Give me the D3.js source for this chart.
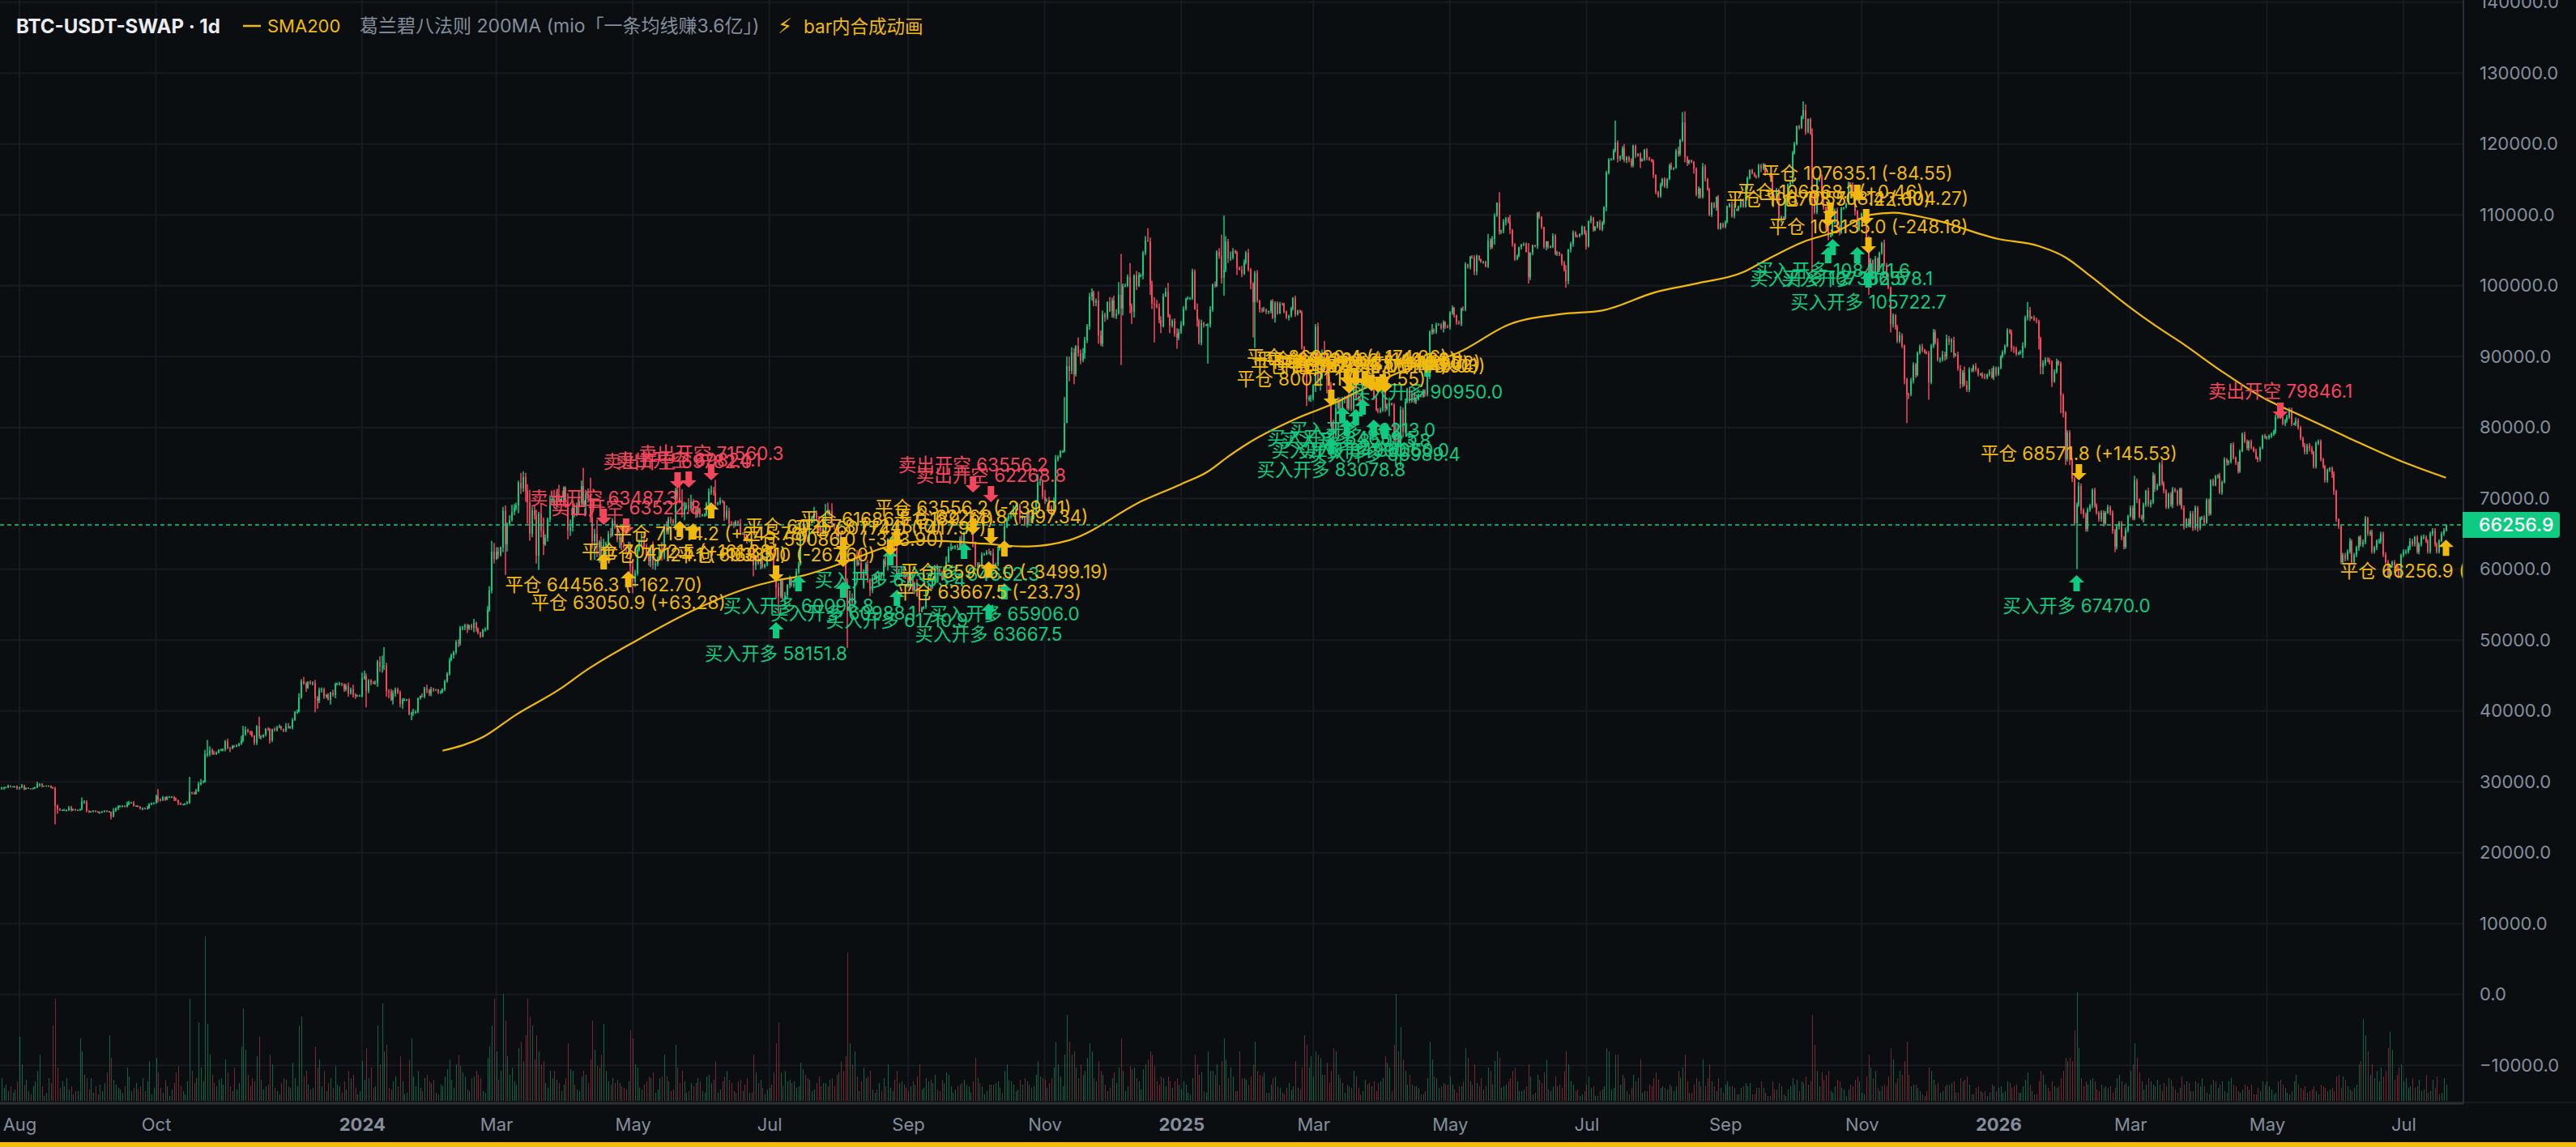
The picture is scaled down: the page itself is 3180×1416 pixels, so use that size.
<!DOCTYPE html>
<html>
<head>
<meta charset="utf-8">
<style>
  html, body { margin: 0; padding: 0; background: #0b0e11; }
  svg { display: block; }
  text { font-family: Inter, "Noto Sans CJK SC", sans-serif; }
  .axis path, .axis line { display: none; }
  .axis text { fill: #848e9c; font-size: 22px; }
</style>
</head>
<body>
<svg id="chart" width="3180" height="1416"></svg>
<script src="https://cdn.jsdelivr.net/npm/d3@7/dist/d3.min.js"></script>
<script>
// first daily bar of the series
const firstBar = "2023-07-24";

// daily closes, in hundreds of USDT (one row per month)
const closes = [
  291,292,292,294,293,293,293,291,
  292,294,290,291,291,290,291,292,297,297, 294,294,294,294,292,291,266,261,260,260, 260,260,264,260,261,260,260,261,272,272, 259,
  258,258,259,258,257,257,258,259,258,258, 251,259,262,265,266,266,265,268,271,271, 266,266,265,262,263,262,263,268,269,270,
  280,275,274,278,275,279,279,279,276,274, 270,268,268,269,271,285,284,283,287,297, 299,300,339,339,345,341,339,341,345,345, 346,
  357,348,347,351,350,351,354,358,367,373, 371,370,365,355,378,364,364,366,375,374, 358,374,373,377,378,374,372,378,377,377,
  387,398,399,419,442,439,433,441,438,440, 418,415,429,431,420,423,416,426,423,437, 438,439,437,430,435,425,431,423,421,421, 421,
  446,449,428,443,440,439,440,469,462,463, 464,428,427,416,425,431,426,410,416,416, 416,395,397,399,399,418,421,420,432,429, 425,
  431,430,430,426,427,431,442,452,472,478, 483,497,496,517,518,521,516,521,517,524, 516,510,505,514,515,543,570,625,615,
  625,620,630,682,635,664,669,681,686,690, 722,714,730,710,694,650,683,676,619,679, 655,635,644,670,699,699,690,705,697,699, 715,
  695,655,659,686,676,690,693,717,691,706, 702,673,640,650,631,639,612,634,636,650, 648,668,662,642,644,634,632,630,635,604,
  583,594,627,638,641,632,623,611,630,605, 608,616,628,618,661,652,670,668,665,712, 701,695,677,687,690,685,696,683,677,684, 677,
  677,677,692,709,710,708,692,693,697,696, 673,682,665,664,662,667,665,650,650,644, 640,640,633,605,618,608,616,603,606,626,
  629,622,600,574,562,584,559,563,578,586, 577,579,596,607,647,650,642,640,668,672, 680,673,659,655,658,680,678,682,664,661, 646,
  650,613,607,582,541,560,553,620,607,609, 587,594,607,585,570,587,592,585,594,590, 612,606,642,642,644,629,592,592,595,592, 589,
  575,593,570,580,562,540,545,547,570,576, 575,583,605,601,596,586,601,611,628,630, 631,633,631,642,632,652,656,657,657,636,
  606,607,604,620,621,624,623,623,606,606, 628,631,628,660,670,675,675,684,684,691, 672,673,663,680,666,672,680,694,722,723, 703,
  697,697,686,678,694,755,759,766,767,806, 886,880,906,875,915,905,895,905,923,943, 985,990,976,979,930,918,960,955,977,964,
  979,957,961,987,968,1000,1000,1012,971,963, 1015,1000,1014,1014,1046,1064,1063,1002,974,973, 970,952,942,985,992,957,944,951,932,926, 934,
  945,968,981,982,983,1020,967,950,920,947, 945,945,945,966,1002,1000,1048,1042,1011,1022, 1062,1038,1040,1049,1047,1025,1023,1017,1033,1046, 1023,
  1003,977,1018,979,966,965,967,963,964,978, 955,976,961,975,974,963,955,957,968,982, 960,965,962,913,885,840,842,842,
  859,943,861,873,902,898,868,860,806,789, 827,838,811,840,842,827,845,826,869,842, 840,835,860,877,875,866,873,843,825,822, 825,
  851,827,831,834,832,782,792,767,825,794, 836,855,837,845,836,840,846,843,852,846, 875,934,938,935,945,945,940,948,943,941,
  962,969,958,948,946,968,966,1030,1026,1041, 1040,1020,1042,1037,1034,1034,1027,1064,1054,1066, 1099,1117,1076,1077,1090,1095,1090,1078,1059,1037, 1042,
  1054,1058,1059,1048,1012,1046,1057,1056,1102,1097, 1083,1055,1062,1055,1055,1071,1045,1047,1044,1032, 1022,1007,1051,1059,1075,1071,1070,1073,1083,1074,
  1056,1091,1096,1079,1083,1090,1080,1089,1110,1160, 1178,1178,1190,1202,1179,1182,1194,1177,1181,1177, 1170,1197,1184,1186,1176,1178,1192,1180,1178,1176, 1156,
  1132,1126,1143,1151,1140,1150,1170,1165,1166,1191, 1186,1205,1231,1181,1173,1177,1175,1165,1129,1137, 1125,1168,1150,1136,1100,1116,1111,1125,1081,1088, 1083,
  1090,1112,1115,1098,1108,1107,1112,1121,1112,1138, 1152,1163,1159,1155,1154,1170,1165,1171,1158,1158, 1155,1127,1123,1136,1092,1097,1095,1123,1142,1146,
  1187,1200,1225,1223,1238,1248,1217,1235,1215,1130, 1104,1150,1154,1130,1110,1082,1069,1072,1089,1107, 1083,1075,1110,1110,1116,1145,1142,1127,1105,1080, 1095,
  1101,1104,1068,1012,1036,1011,1039,1022,1046,1060, 1029,1010,997,946,959,941,922,930,915,868, 847,846,866,889,874,905,914,909,906,905,
  864,915,934,920,896,896,903,900,925,921, 923,902,903,883,861,877,860,853,882,881, 886,882,875,875,872,871,875,879,871,884, 875,
  884,900,906,915,937,935,912,910,904,905, 906,915,955,965,955,955,952,950,925,885, 891,896,895,892,865,879,893,890,845,820, 755,
  793,755,728,665,691,717,683,677,657,684, 690,712,690,680,670,680,665,680,688,680, 655,632,660,665,645,632,655,675,
  687,672,725,698,674,672,691,710,691,695, 732,713,719,748,721,710,688,706,691,713, 710,692,713,687,660,670,662,679,658,687, 658,
  672,673,666,698,679,725,719,731,732,708, 723,755,750,752,776,757,750,738,767,791, 780,771,780,771,767,757,755,771,788,786,
  786,788,790,795,815,825,815,805,810,815, 825,805,805,810,800,785,775,765,775,770, 765,745,778,780,755,745,725,740,742,735, 710,670,660,
  610,620,615,625,640,610,620,630,645,635, 638,672,650,652,625,630,640,640,650,620, 610,590,605,610,605,600,590,620,625,625,
  630,640,635,645,625,635,645,645,640,625, 650,655,635,625,640,650,655,663
];

// wick length above the candle body, in hundreds of USDT
const wickUp = [
  2,1,1,2,1,1,1,2,
  1,3,2,1,1,0,1,1,3,1, 1,0,1,1,1,1,2,2,2,1, 2,1,2,2,1,1,1,1,6,2, 2,
  1,1,1,1,1,1,1,1,1,1, 0,4,2,2,1,1,1,4,2,1, 2,1,1,1,1,1,3,2,2,1,
  2,10,2,2,1,1,1,1,1,2, 1,1,1,1,2,22,1,2,3,3, 5,2,6,20,5,2,3,2,1,2, 1,
  2,4,1,1,1,2,1,7,12,5, 2,1,2,1,2,14,2,1,1,2, 2,1,3,2,3,1,1,5,5,2,
  3,2,3,6,3,6,2,1,2,2, 4,3,4,2,2,1,2,1,4,3, 2,2,1,2,3,5,2,6,2,2, 2,
  8,8,4,2,2,2,3,3,8,15, 26,4,3,4,4,2,2,3,2,2, 1,2,2,4,2,1,1,4,2,5, 2,
  3,2,1,1,2,1,2,3,3,3, 2,3,4,3,2,2,2,1,2,6, 2,2,2,2,3,5,6,15,12,
  6,6,2,6,8,2,7,10,6,4, 3,14,8,6,10,18,5,8,8,2, 14,18,5,3,5,4,13,5,14,4, 2,
  2,12,11,5,7,4,3,8,26,6, 8,27,27,7,20,2,7,9,3,4, 8,4,9,2,7,3,4,3,4,3,
  5,5,8,4,11,12,4,8,4,9, 6,2,7,10,1,7,4,4,3,3, 7,18,18,8,4,10,9,3,5,4, 3,
  1,2,3,5,8,6,18,2,4,1, 0,8,5,3,3,2,2,6,2,4, 3,1,1,2,2,2,2,3,2,3,
  3,5,2,2,7,3,3,5,1,5, 3,2,5,4,4,5,9,3,7,3, 8,3,2,1,3,12,14,2,11,1, 2,
  5,4,5,2,5,10,6,2,7,4, 17,6,3,6,2,3,2,3,2,2, 3,6,2,3,3,3,3,2,9,5, 2,
  4,2,6,2,6,3,2,1,1,3, 2,2,1,2,1,2,3,7,4,7, 2,1,3,4,6,1,5,4,2,3,
  3,3,3,4,2,3,5,3,6,3, 3,3,1,6,3,4,3,6,2,3, 1,3,2,2,4,3,6,4,12,5, 2,
  9,3,5,4,7,6,2,2,1,37, 14,14,7,6,1,12,5,7,5,3, 5,6,3,3,13,7,5,2,1,7,
  4,7,6,18,58,3,3,4,20,4, 1,6,5,3,3,6,17,5,5,10, 7,5,5,4,5,12,3,2,3,8, 5,
  5,3,2,3,1,4,3,8,3,5, 2,1,2,5,1,4,2,5,30,77, 8,4,8,4,2,2,2,5,4,3, 6,
  2,2,3,4,1,3,3,1,1,2, 3,2,2,2,1,2,2,2,2,2, 4,1,1,3,2,2,3,4,
  2,3,5,3,8,20,10,4,4,5, 12,5,4,3,2,3,3,4,3,3, 3,2,2,2,2,2,4,2,3,2, 3,
  8,34,3,8,1,2,15,13,5,3, 5,1,2,6,5,2,2,1,2,2, 3,3,8,2,3,2,2,3,2,2,
  2,3,1,1,3,1,3,3,1,1, 2,3,2,1,1,1,1,9,3,4, 3,0,15,2,4,2,2,10,2,1, 2,
  1,1,2,2,12,1,1,1,2,3, 1,0,1,1,2,3,2,2,1,1, 3,7,1,3,3,2,1,1,2,1,
  4,1,3,1,1,1,3,2,2,2, 2,2,3,31,3,2,3,6,2,2, 3,2,2,1,2,2,1,2,2,1, 2,
  1,2,2,1,2,2,2,4,1,2, 5,2,14,15,2,1,1,1,2,3, 1,5,3,2,2,2,2,1,3,1, 1,
  2,1,2,4,8,1,1,2,2,3, 2,1,2,1,1,2,2,2,1,1, 1,1,2,2,1,2,1,1,2,1,
  3,3,1,2,2,12,8,1,2,7, 3,2,1,3,4,2,2,1,1,2, 3,3,1,1,1,2,1,4,4,2, 1,
  2,1,1,2,3,1,3,1,2,2, 5,3,6,2,2,1,4,5,3,2, 2,2,4,3,2,2,3,4,2,2,
  3,3,5,4,6,3,5,4,6,4, 3,5,2,4,5,4,9,6,3,2, 3,5,2,2,3,4,1,3,5,3, 2,
  2,2,3,2,3,2,3,3,4,2, 3,5,3,12,5,2,3,3,2,3, 4,3,3,3,3,3,4,2,3,3, 3,
  3,3,2,2,3,6,4,3,3,3, 2,2,3,3,2,3,3,2,3,2, 3,2,3,3,3,2,4,2,
  3,3,7,3,2,3,3,2,5,3, 5,3,2,3,6,3,3,2,3,3, 2,2,2,2,3,2,2,3,3,3, 2,
  2,2,3,2,2,2,3,2,2,4, 2,3,2,2,2,3,2,2,2,2, 3,3,2,3,2,3,2,2,2,3,
  2,2,3,2,3,4,2,3,2,3, 3,3,2,4,3,2,2,3,2,3, 4,2,2,3,3,2,2,2,2,3, 3,2,2,3,3,3,3,4,2,3, 3,2,3,4,3,2,3,4,3,2, 3,3,3,4,3,3,2,3,3,4, 2,3,3,3,4,3,2,3,3,3, 4,3,2,3,3,3,3,2,3,3, 0
];

// wick length below the candle body, in hundreds of USDT
const wickDown = [
  1,2,1,1,1,0,1,2,
  2,1,2,1,0,1,1,1,1,4, 2,1,0,1,1,1,26,6,1,1, 1,2,1,2,1,1,1,1,1,3, 2,
  2,1,1,1,1,2,1,1,1,1, 4,1,1,2,1,2,1,1,1,1, 1,1,1,1,2,1,1,1,1,1,
  1,4,2,1,2,1,1,1,3,1, 3,1,1,1,1,2,2,1,1,1, 2,1,1,4,3,3,1,1,1,1, 2,
  3,2,5,1,2,1,1,2,2,2, 2,4,2,3,3,3,4,2,2,2, 4,2,2,2,1,1,2,2,2,2,
  3,1,2,1,2,2,6,2,1,2, 20,12,4,3,3,2,1,7,3,5, 1,2,2,3,2,5,2,4,4,1, 1,
  2,2,23,3,4,1,2,6,7,8, 5,8,9,2,7,5,2,5,7,2, 2,1,8,4,3,2,2,1,2,4, 4,
  4,3,2,2,2,2,3,2,2,2, 4,3,6,4,3,4,6,2,3,6, 4,2,2,1,2,1,3,4,7,
  2,5,2,6,43,10,3,2,5,3, 11,8,5,15,30,10,5,6,11,20, 10,15,2,5,4,6,4,3,2,2, 4,
  8,13,8,6,3,1,2,3,2,15, 8,7,11,27,14,22,10,6,33,6, 4,2,5,4,12,7,3,7,8,9,
  17,8,3,2,4,4,4,6,8,5, 6,4,3,6,4,3,3,4,1,6, 4,2,4,8,3,4,3,4,5,4, 4,
  3,3,2,3,4,4,6,2,2,3, 5,3,4,3,4,2,4,2,1,4, 4,2,2,15,6,2,8,2,2,2,
  7,2,6,15,25,3,2,9,4,5, 2,3,1,3,2,1,4,2,2,1, 7,4,5,6,8,2,2,3,1,5, 2,
  7,3,3,3,52,2,5,6,3,2, 2,9,3,4,8,4,2,2,7,3, 4,3,8,2,2,3,7,7,2,5, 3,
  1,3,2,5,1,2,1,2,3,4, 5,3,4,2,3,2,1,4,2,2, 2,3,2,3,3,1,2,2,3,5,
  3,3,2,2,1,1,2,4,1,3, 2,2,2,2,2,2,4,1,2,1, 8,2,2,4,3,1,2,2,2,4, 4,
  5,2,4,3,2,1,3,2,2,2, 0,15,5,14,3,5,6,3,8,4, 5,6,5,5,12,3,4,6,3,1,
  9,3,4,2,80,10,2,2,10,17, 8,6,2,2,5,3,1,15,7,53, 2,5,9,1,1,2,11,3,4,15, 3,
  2,2,3,1,2,3,1,8,3,4, 4,2,55,4,3,3,2,4,8,25, 3,6,3,3,2,10,1,5,2,3, 3,
  8,50,65,3,4,3,2,3,3,3, 2,7,2,1,2,2,2,4,2,3, 4,2,1,3,13,10,3,6,
  4,9,3,9,5,4,20,7,5,10, 4,2,2,2,6,2,3,3,3,4, 3,2,2,2,3,2,2,4,2,2, 2,
  3,5,3,15,1,4,37,2,22,8, 2,2,3,2,2,3,2,1,1,3, 2,7,3,3,3,1,2,6,4,1,
  3,3,3,3,1,3,2,2,2,3, 2,5,5,2,2,3,1,2,3,2, 8,2,4,3,3,5,2,5,4,2, 1,
  2,3,2,1,9,4,3,2,4,3, 3,3,5,3,2,2,2,3,2,4, 2,10,5,4,4,3,2,2,2,2,
  5,2,3,3,2,2,2,3,3,5, 3,1,1,2,5,3,4,3,4,3, 3,3,4,2,10,1,2,3,2,2, 4,
  3,2,2,3,2,3,1,2,2,1, 4,3,2,7,4,2,2,7,3,6, 2,2,3,2,2,3,2,5,2,2, 2,
  2,2,2,2,3,2,2,2,2,2, 2,2,2,2,3,2,5,2,3,1, 2,4,3,3,2,3,2,1,3,3,
  2,2,2,3,2,3,4,2,2,112, 3,3,3,6,3,3,5,1,2,2, 3,4,2,3,1,2,3,3,6,4, 3,
  2,2,3,25,8,3,7,3,3,2, 2,2,2,12,5,3,3,3,3,7, 41,6,2,4,4,2,2,3,2,2,
  25,3,3,3,3,5,3,6,4,5, 15,4,2,3,6,4,2,3,3,3, 3,3,3,2,3,3,3,3,2,4, 3,
  2,2,2,3,2,3,5,5,3,2, 2,8,3,4,5,2,2,3,15,10, 10,4,3,3,8,2,3,3,25,6, 8,
  3,8,5,3,65,3,5,5,4,4, 3,4,3,3,3,3,5,3,2,4, 5,8,4,4,4,4,3,3,
  2,3,3,5,2,3,6,3,3,4, 3,4,2,2,3,3,3,3,3,5, 2,3,2,3,4,2,3,3,4,3, 5,
  3,3,3,2,4,3,2,2,3,2, 3,2,4,3,3,2,3,3,2,2, 2,3,4,2,2,2,4,3,2,2,
  3,3,3,2,4,3,3,2,3,3, 3,3,2,3,3,3,3,3,3,4, 3,3,3,3,3,3,3,3,3,6, 5,3,3,3,3,4,3,3,3,3, 3,4,3,4,3,3,3,3,3,3, 4,4,3,3,3,4,3,3,3,3, 3,3,4,3,3,3,3,3,4,3, 3,3,3,3,3,3,3,3,2,3, 2
];

// volume, relative units (tallest bar = 100)
const volumes = [
  14,8,10,6,9,5,7,12,
  39,22,10,13,6,4,9,12,18,28, 9,3,5,14,11,46,62,20,8,12, 9,14,7,9,4,6,6,38,30,16, 14,
  7,14,5,9,4,10,6,11,17,40, 26,13,10,8,7,5,9,20,15,6, 8,11,7,9,14,6,12,24,4,8,
  26,17,8,5,13,9,3,7,11,17, 21,9,6,4,12,62,18,11,14,48, 20,12,100,47,28,16,11,9,13,14, 10,
  25,17,9,6,20,7,11,33,56,31, 16,9,14,12,27,39,13,7,9,10, 28,22,8,6,4,11,14,13,9,8,
  23,14,9,46,51,15,18,10,7,8, 33,20,25,9,18,6,11,14,8,21, 10,9,5,12,7,18,14,16,8,4, 6,
  24,13,32,14,20,8,9,46,22,59, 30,34,8,7,12,15,9,27,12,4, 5,25,38,15,9,18,8,6,14,16, 12,
  11,13,5,4,10,9,15,19,25,13, 8,22,28,21,17,15,7,6,14,15, 18,16,14,6,5,26,33,46,62,
  30,13,18,65,49,27,16,20,12,10, 32,36,24,40,62,51,46,25,40,30, 22,24,11,8,18,14,18,13,11,6, 10,
  14,35,19,18,10,7,6,15,18,16, 11,25,49,31,21,20,28,47,18,12, 10,14,11,13,11,9,8,7,12,43,
  38,22,20,8,7,10,12,15,14,17, 5,7,14,15,28,15,12,6,7,34, 20,11,18,12,5,6,11,9,11,14, 12,
  6,5,15,16,11,13,24,5,7,12, 15,18,13,11,6,5,12,13,6,10, 14,5,5,28,17,11,13,8,4,7,
  8,10,17,35,48,17,9,18,12,13, 11,12,8,9,23,19,16,14,13,6, 7,11,15,9,11,11,9,13,14,9, 16,
  17,24,18,27,90,35,22,30,15,6, 12,20,14,15,18,7,5,7,11,6, 14,9,22,8,6,13,18,11,12,10, 8,
  6,9,12,10,15,22,7,8,14,12, 13,11,16,7,6,13,11,17,16,9, 5,7,9,10,11,13,10,9,5,12,
  26,14,11,9,4,6,10,10,10,11, 12,8,5,18,22,13,12,10,6,7, 13,10,14,12,10,8,9,16,24,15, 14,
  13,8,11,14,20,36,22,15,9,28, 52,36,28,30,20,14,22,16,18,26, 35,30,14,12,24,18,16,10,6,8,
  14,17,11,20,38,18,6,9,21,19, 20,14,12,7,19,22,25,30,28,21, 12,10,15,14,9,15,12,8,12,14, 10,
  7,12,10,5,4,14,28,22,16,17, 6,5,30,18,18,16,22,10,24,38, 25,14,20,15,6,6,30,14,14,13, 10,
  15,22,36,18,16,15,17,5,5,10, 14,15,9,8,5,4,8,11,7,9, 24,8,7,20,40,34,20,27,
  15,30,28,26,16,16,23,11,18,32, 30,16,14,11,5,10,9,8,18,15, 8,4,6,13,10,11,9,12,6,11, 12,
  14,27,23,20,6,34,65,30,45,25, 18,10,16,10,9,9,8,4,4,6, 14,36,25,15,14,8,9,11,10,10,
  15,10,7,5,9,9,12,32,26,12, 10,22,11,9,14,7,9,20,18,10, 24,30,26,8,9,10,12,14,18,20, 12,
  6,6,7,9,22,15,4,5,16,13, 11,17,25,7,6,9,15,9,10,8, 18,30,22,12,10,6,7,3,4,6,
  10,15,8,9,3,3,6,7,9,32, 30,7,8,28,28,10,16,14,6,4, 8,16,12,14,25,5,6,6,10,9, 14,
  17,13,8,9,8,7,10,9,6,9, 18,14,20,28,12,5,5,10,14,12, 9,25,9,14,22,12,9,6,14,8, 5,
  10,12,9,9,8,4,4,8,9,11, 9,11,4,4,8,8,12,8,5,3, 3,12,7,7,11,9,4,3,7,9,
  14,10,13,6,12,11,15,10,12,52, 34,18,9,17,13,16,18,6,5,9, 13,12,8,7,3,7,10,9,13,15, 12,
  5,4,15,28,20,14,18,8,6,9, 10,9,15,32,25,11,14,18,16,24, 36,16,9,10,10,8,6,4,3,6,
  20,18,13,10,11,5,6,9,10,10, 11,12,5,5,14,12,13,15,10,4, 4,8,9,6,5,6,3,5,10,9, 6,
  8,9,5,6,12,11,8,9,10,5, 5,9,13,17,10,6,4,4,12,18, 16,10,8,6,12,9,8,9,14,18, 26,
  24,26,24,43,66,32,14,9,12,10, 13,14,12,7,6,10,8,9,8,9, 5,8,14,16,12,10,11,9,
  18,22,35,26,17,12,7,10,14,12, 10,9,13,10,6,11,9,14,13,9, 7,5,8,15,10,12,11,6,6,12, 11,
  9,14,9,5,4,10,13,12,8,10, 12,6,5,12,14,10,9,6,5,7, 10,9,7,10,4,4,8,6,12,10,
  12,9,7,4,5,12,13,10,8,5, 4,6,12,16,10,8,7,9,5,6, 7,9,6,4,10,9,8,6,7,8, 6,15,16,8,15,13,9,7,6,8, 10,22,24,50,40,30,16,22,14,18, 12,20,15,18,32,42,31,13,16,20, 22,12,14,8,9,14,8,9,13,6, 7,16,5,6,13,8,15,4,5,14, 10
];

// SMA200, in hundreds of USDT
const smaDates = ["2024-02-06","2024-02-24","2024-03-10","2024-03-29","2024-04-10","2024-05-03","2024-05-28","2024-06-20","2024-07-04","2024-07-16","2024-08-03","2024-08-23","2024-09-11","2024-10-05","2024-10-23","2024-11-12","2024-12-15","2025-01-01","2025-01-13","2025-01-22","2025-01-31","2025-02-21","2025-03-11","2025-03-23","2025-04-10","2025-05-05","2025-05-28","2025-06-20","2025-07-08","2025-08-01","2025-08-19","2025-09-09","2025-09-18","2025-10-06","2025-10-21","2025-11-05","2025-11-15","2025-12-02","2026-01-01","2026-01-19","2026-01-31","2026-02-11","2026-03-01","2026-03-12","2026-03-25","2026-04-10","2026-05-01","2026-05-14","2026-06-06","2026-07-01","2026-07-20"];
const smaValues = [344,363,395,430,457,500,542,572,584,591,609,632,640,636,632,641,697,720,738,759,778,812,835,854,880,906,946,960,965,991,1003,1019,1034,1062,1077,1100,1103,1094,1066,1056,1040,1014,969,944,917,881,839,820,786,751,729];

// trade markers: date, price at the arrow tip, kind, label
const markerDates = [
  "2024-04-18","2024-04-28","2024-05-21","2024-05-26","2024-06-05","2024-09-30","2024-10-08","2026-05-07",
  "2024-07-04","2024-07-14","2024-08-03","2024-08-27","2024-08-24","2024-09-26","2024-10-14","2024-10-07",
  "2025-03-09","2025-03-23","2025-03-14","2025-03-20","2025-03-16","2025-03-28","2025-04-02","2025-04-21",
  "2025-10-19","2025-10-17","2025-10-30","2025-11-04","2026-02-05",
  "2024-04-18","2024-04-29","2024-06-05","2024-05-22","2024-05-28","2024-10-07","2024-10-14","2026-07-20",
  "2024-07-04","2024-08-03","2024-08-03","2024-08-27","2024-08-24","2024-09-30","2024-10-08",
  "2025-03-17","2025-03-09","2025-03-16","2025-03-20","2025-03-24","2025-03-27","2025-03-30","2025-04-01","2025-04-02",
  "2025-10-30","2025-10-18","2025-10-17","2025-11-03","2025-11-04","2026-02-06"
];
const markerPrices = [
  66251,64880,71393,71509,72537,70823,69451,81223,
  52537,59166,58251,57109,62823,63737,58023,55166,
  78480,84080,82937,82594,81109,81109,80651,89451,
  106594,105451,105451,102023,59166,
  62251,59737,69451,66823,66480,61109,64080,64166,
  58251,60309,62251,63166,61909,64880,63509,
  84766,83051,86023,85794,85680,85109,84880,85223,84880,
  111966,109451,108309,108537,104537,72537
];
const markerKinds = [
  "sell","sell","sell","sell","sell","sell","sell","sell",
  "buy","buy","buy","buy","buy","buy","buy","buy",
  "buy","buy","buy","buy","buy","buy","buy","buy",
  "buy","buy","buy","buy","buy",
  "closeUp","closeUp","closeUp","closeUp","closeUp","closeUp","closeUp","closeUp",
  "closeDown","closeDown","closeDown","closeDown","closeDown","closeDown","closeDown",
  "closeDown","closeDown","closeDown","closeDown","closeDown","closeDown","closeDown","closeDown","closeDown",
  "closeDown","closeDown","closeDown","closeDown","closeDown","closeDown"
];
const markerTexts = [
  "卖出开空 63487.3","卖出开空 63522.8","卖出开空 69782.0","卖出开空 69824.1","卖出开空 71560.3","卖出开空 63556.2","卖出开空 62268.8","卖出开空 79846.1",
  "买入开多 58151.8","买入开多 60098.8","买入开多 60988.1","买入开多 61710.9","买入开多 62393.4","买入开多 64652.3","买入开多 65906.0","买入开多 63667.5",
  "买入开多 83078.8","买入开多 86213.0","买入开多 84659.5","买入开多 85023.8","买入开多 84990.5","买入开多 86060.0","买入开多 86989.4","买入开多 90950.0",
  "买入开多 108441.6","买入开多 107362.5","买入开多 106578.1","买入开多 105722.7","买入开多 67470.0",
  "平仓 64456.3 (-162.70)","平仓 63050.9 (+63.28)","平仓 71314.2 (+245.78)","平仓 70472.5 (+161.38)","平仓 70124.1 (+168.31)","平仓 63667.5 (-23.73)","平仓 65906.0 (-3499.19)","平仓 66256.9 (+1260.35)",
  "平仓 60335.0 (-267.60)","平仓 59086.0 (-343.90)","平仓 60257.8 (+245.10)","平仓 61686.5 (-189.24)","平仓 60774.0 (-417.97)","平仓 63556.2 (-239.01)","平仓 62268.8 (-197.34)",
  "平仓 86302.1 (+170.44)","平仓 80021.1 (-152.55)","平仓 86920.4 (+174.06)","平仓 87028.6 (+149.23)","平仓 87390.2 (+140.61)","平仓 87129.3 (+172.83)","平仓 86994.7 (+146.90)","平仓 87201.5 (+163.72)","平仓 87035.0 (+149.03)",
  "平仓 107635.1 (-84.55)","平仓 106868.1 (+0.46)","平仓 106703.5 (-122.60)","平仓 105708.4 (-104.27)","平仓 103135.0 (-248.18)","平仓 68571.8 (+145.53)"
];

// axis ticks
const priceTicks = [140000,130000,120000,110000,100000,90000,80000,70000,60000,50000,40000,30000,20000,10000,0,-10000];
const timeTickDates = ["2023-08-01","2023-10-01","2024-01-01","2024-03-01","2024-05-01","2024-07-01","2024-09-01","2024-11-01","2025-01-01","2025-03-01","2025-05-01","2025-07-01","2025-09-01","2025-11-01","2026-01-01","2026-03-01","2026-05-01","2026-07-01"];
const timeTickLabels = ["Aug","Oct","2024","Mar","May","Jul","Sep","Nov","2025","Mar","May","Jul","Sep","Nov","2026","Mar","May","Jul"];

const lastPrice = 66256.9;

// colours
const GREEN = "#0ecb81", RED = "#f6465d", AMBER = "#f0b90b", GRID = "#171b20", AXIS_LINE = "#2b3038";

const parseDay = d3.utcParse("%Y-%m-%d");
const plotRight = 3041, paneBottom = 1362;

const svg = d3.select("#chart");
svg.append("rect").attr("width", 3180).attr("height", 1416).attr("fill", "#0b0e11");

// scales
const x = d3.scaleUtc().domain([parseDay("2023-08-01"), parseDay("2026-07-01")]).range([24, 2967]);
const y = d3.scaleLinear().domain([140000, -10000]).range([2.7, 1315.2]);
const yVol = d3.scaleLinear().domain([0, 100]).range([1359, 1156]);

// candle table
const start = parseDay(firstBar);
const bars = closes.map(function (c, i) {
    const open = i === 0 ? 290 : closes[i - 1];
    return {
        date: d3.utcDay.offset(start, i),
        open: open * 100,
        close: c * 100,
        high: (Math.max(open, c) + (wickUp[i] || 0)) * 100,
        low: (Math.min(open, c) - (wickDown[i] || 0)) * 100,
        volume: volumes[i] || 0
    };
});
const barColor = d => d.close >= d.open ? GREEN : RED;
const barX = d => Math.round(x(d.date));

svg.append("defs").append("clipPath").attr("id", "plot-clip")
    .append("rect").attr("width", plotRight).attr("height", paneBottom);

// gridlines
const grid = svg.append("g");
grid.selectAll(".gh").data(priceTicks).enter().append("line")
    .attr("x1", 0).attr("x2", plotRight).attr("y1", d => y(d)).attr("y2", d => y(d))
    .attr("stroke", GRID).attr("stroke-width", 2);
grid.selectAll(".gv").data(timeTickDates.map(parseDay)).enter().append("line")
    .attr("x1", d => x(d)).attr("x2", d => x(d)).attr("y1", 0).attr("y2", paneBottom)
    .attr("stroke", GRID).attr("stroke-width", 2);

const plot = svg.append("g").attr("clip-path", "url(#plot-clip)");

// volume
plot.append("g").selectAll("rect").data(bars).enter().append("rect")
    .attr("x", barX).attr("width", 1)
    .attr("y", d => yVol(d.volume)).attr("height", d => yVol(0) - yVol(d.volume))
    .attr("fill", barColor).attr("fill-opacity", 0.45)
    .attr("shape-rendering", "crispEdges");

// candles
const candles = plot.append("g").selectAll("g").data(bars).enter().append("g");
candles.append("rect")
    .attr("x", d => barX(d) - 0.75).attr("width", 1.5)
    .attr("y", d => y(d.high)).attr("height", d => y(d.low) - y(d.high))
    .attr("fill", barColor);
candles.append("rect")
    .attr("x", d => barX(d) - 1).attr("width", 2)
    .attr("y", d => y(Math.max(d.open, d.close)))
    .attr("height", d => Math.max(1, Math.abs(y(d.open) - y(d.close))))
    .attr("fill", barColor)
    .attr("shape-rendering", "crispEdges");

// SMA200
const smaLine = d3.line()
    .x(d => x(d.date)).y(d => y(d.value))
    .curve(d3.curveMonotoneX);
plot.append("path")
    .datum(smaDates.map((d, i) => ({ date: parseDay(d), value: smaValues[i] * 100 })))
    .attr("d", smaLine).attr("fill", "none").attr("stroke", AMBER).attr("stroke-width", 2.2);

// last price line
plot.append("line")
    .attr("x1", 0).attr("x2", plotRight).attr("y1", y(lastPrice)).attr("y2", y(lastPrice))
    .attr("stroke", GREEN).attr("stroke-width", 1.6).attr("stroke-dasharray", "5,4");

// trade markers
const kindColor = { buy: GREEN, sell: RED, closeUp: AMBER, closeDown: AMBER };
const arrowUp = "M0,0L9.5,9L4,9L4,20L-4,20L-4,9L-9.5,9Z";
const markers = markerDates.map((d, i) => ({
    date: parseDay(d), price: markerPrices[i], kind: markerKinds[i], text: markerTexts[i]
}));
const markerG = plot.append("g").selectAll("g").data(markers).enter().append("g")
    .attr("transform", d => "translate(" + x(d.date) + "," + y(d.price) + ")");
markerG.append("path")
    .attr("d", arrowUp)
    .attr("transform", d => (d.kind === "sell" || d.kind === "closeDown") ? "scale(1,-1)" : null)
    .attr("fill", d => kindColor[d.kind]);
markerG.append("text")
    .attr("text-anchor", "middle")
    .attr("dominant-baseline", "central")
    .attr("y", d => (d.kind === "sell" || d.kind === "closeDown") ? -34 : 38)
    .attr("font-size", 22.5)
    .attr("fill", d => kindColor[d.kind])
    .text(d => d.text);

// pane frame
svg.append("line").attr("x1", 0).attr("x2", plotRight).attr("y1", paneBottom).attr("y2", paneBottom)
    .attr("stroke", AXIS_LINE).attr("stroke-width", 3);
svg.append("line").attr("x1", plotRight).attr("x2", 3180).attr("y1", paneBottom - 1).attr("y2", paneBottom - 1)
    .attr("stroke", "#1c2026").attr("stroke-width", 1.5);
svg.append("line").attr("x1", plotRight).attr("x2", plotRight).attr("y1", 0).attr("y2", paneBottom)
    .attr("stroke", AXIS_LINE).attr("stroke-width", 2);
svg.append("rect").attr("x", 0).attr("y", 1410).attr("width", 3180).attr("height", 6).attr("fill", AMBER);

// price axis
svg.append("g").attr("class", "axis")
    .attr("transform", "translate(" + plotRight + ",0)")
    .call(d3.axisRight(y).tickValues(priceTicks).tickSize(0).tickPadding(20).tickFormat(d3.format(".1f")));

// last price tag
svg.append("path")
    .attr("d", "M3040," + (y(lastPrice) - 16) + "H3156a4,4 0 0 1 4,4V" + (y(lastPrice) + 12) + "a4,4 0 0 1 -4,4H3040Z")
    .attr("fill", GREEN);
svg.append("text")
    .attr("x", 3060).attr("y", y(lastPrice)).attr("dominant-baseline", "central")
    .attr("font-size", 23).attr("font-weight", 500).attr("fill", "#fff")
    .text(d3.format(".1f")(lastPrice));

// time axis
const timeAxis = svg.append("g").attr("class", "axis")
    .attr("transform", "translate(0," + paneBottom + ")")
    .call(d3.axisBottom(x).tickValues(timeTickDates.map(parseDay)).tickSize(0).tickPadding(18)
        .tickFormat((d, i) => timeTickLabels[i]));
timeAxis.selectAll("text").attr("font-weight", (d, i) => /^\d+$/.test(timeTickLabels[i]) ? 700 : 400);

// header
const header = svg.append("g").attr("dominant-baseline", "central");
header.append("text").attr("x", 20).attr("y", 32).attr("font-size", 24).attr("font-weight", 700).attr("fill", "#eaecef").text("BTC-USDT-SWAP · 1d");
header.append("line").attr("x1", 300).attr("x2", 322).attr("y1", 32).attr("y2", 32).attr("stroke", AMBER).attr("stroke-width", 2.5);
header.append("text").attr("x", 330).attr("y", 32).attr("font-size", 22).attr("fill", AMBER).text("SMA200");
header.append("text").attr("x", 444).attr("y", 32).attr("font-size", 23).attr("fill", "#848e9c").text("葛兰碧八法则 200MA (mio「一条均线赚3.6亿」)");
header.append("text").attr("x", 960).attr("y", 32).attr("font-size", 26).attr("fill", AMBER).style("font-family", "DejaVu Sans").text("⚡");
header.append("text").attr("x", 992).attr("y", 32).attr("font-size", 22.5).attr("fill", AMBER).text("bar内合成动画");
</script>
</body>
</html>
